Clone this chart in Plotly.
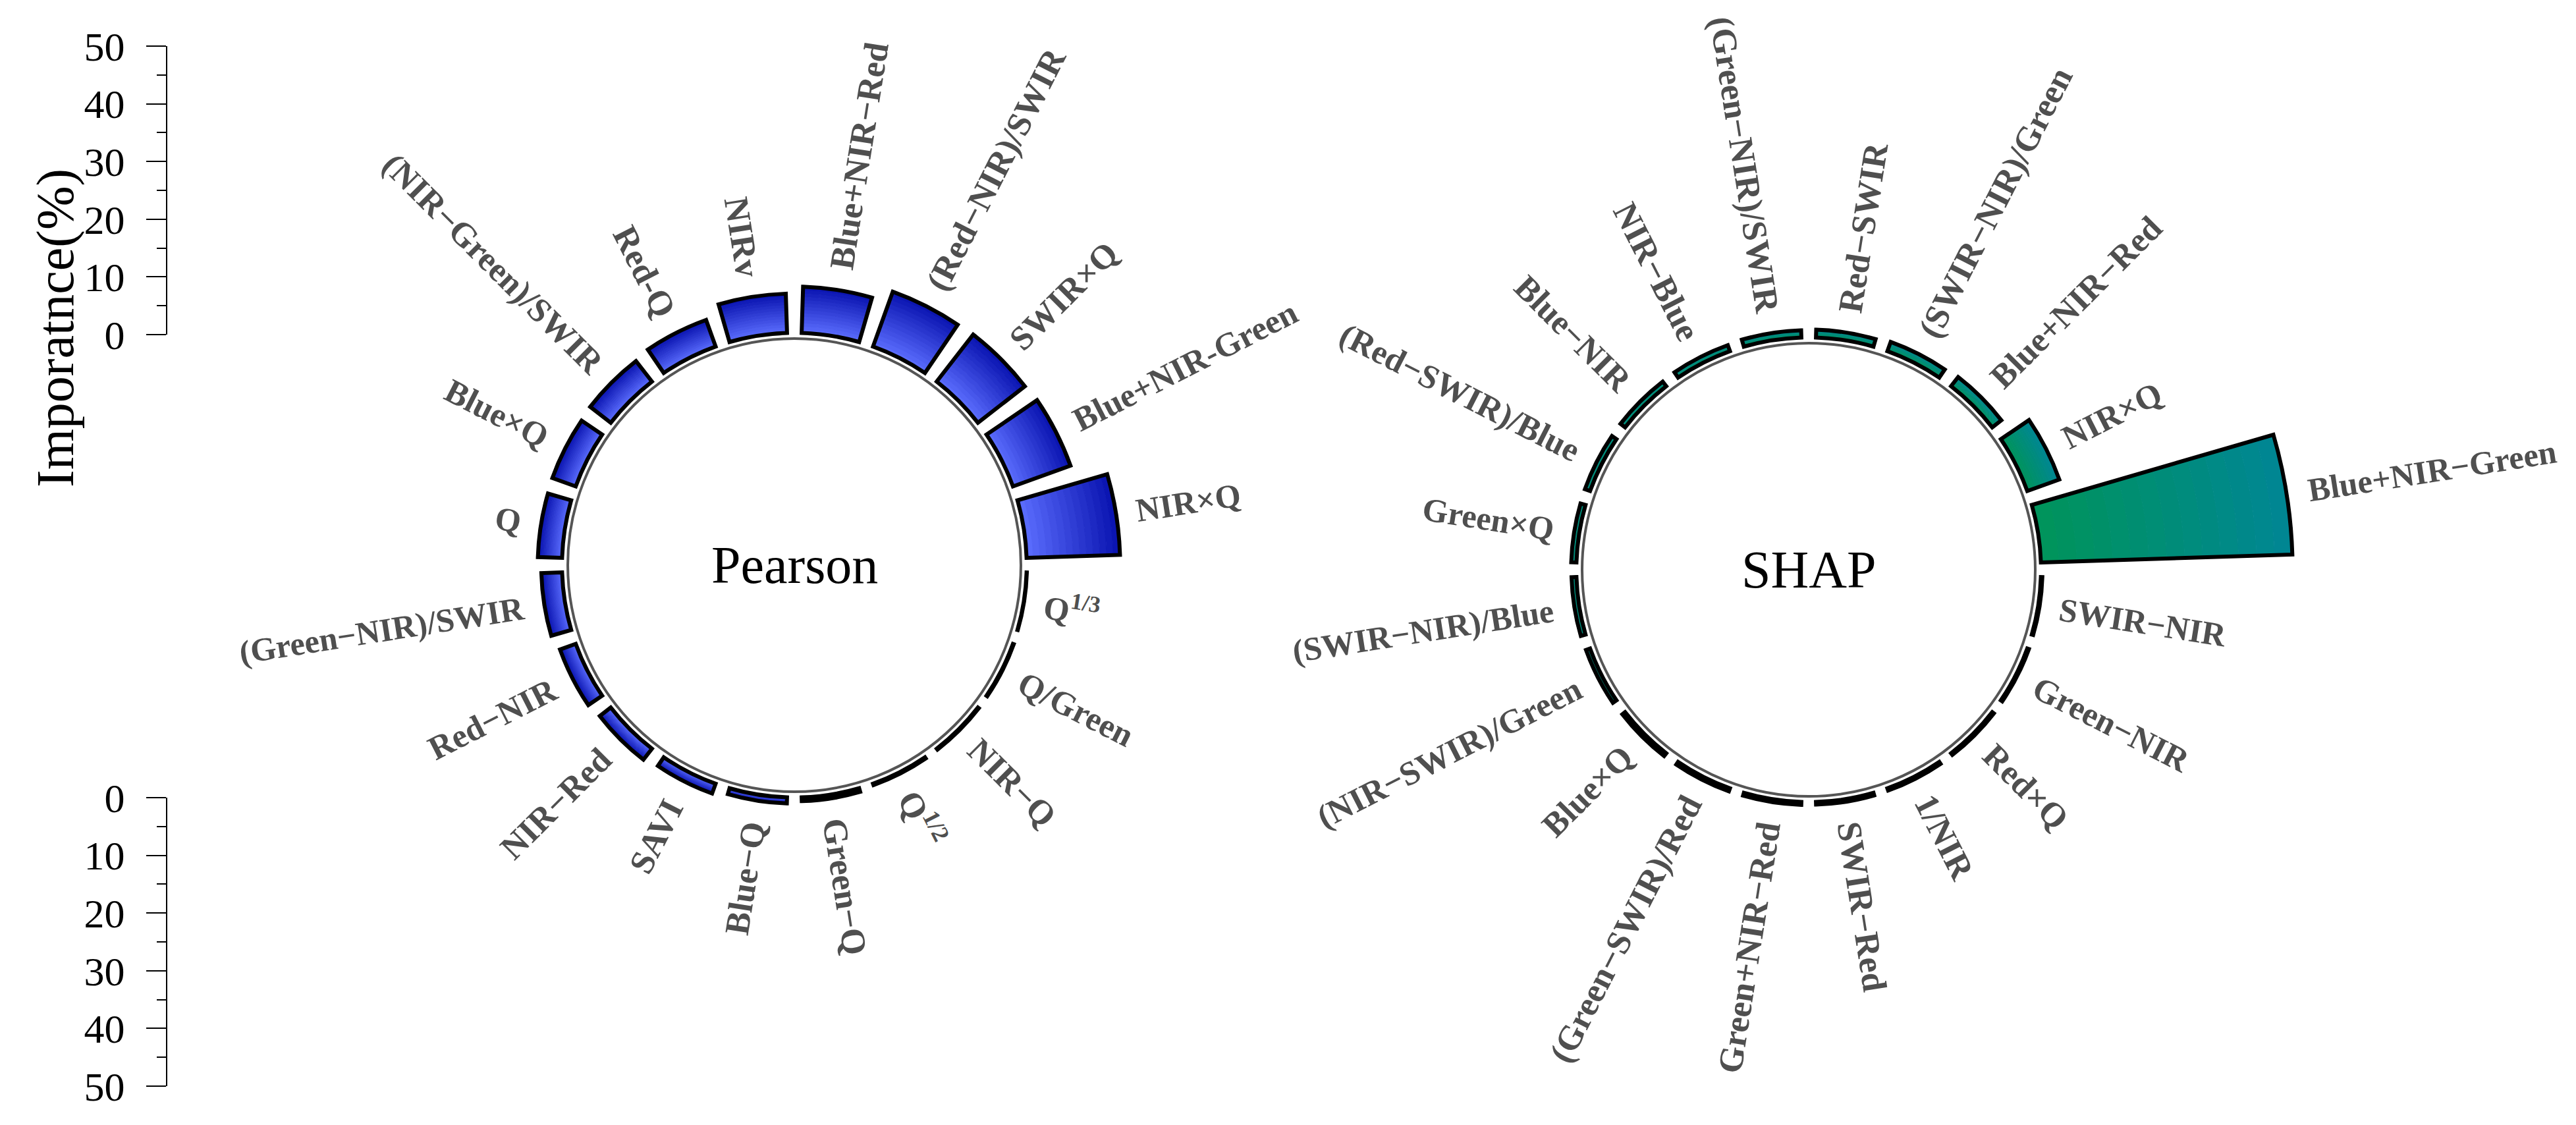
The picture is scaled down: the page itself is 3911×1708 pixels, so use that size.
import math
import re

import plotly.graph_objects as go

# ── Data ───────────────────────────────────────────────────────
# categories listed counter-clockwise, starting just above 3 o'clock
pearson_labels = [
    "NIR×Q", "Blue+NIR-Green", "SWIR×Q", "(Red−NIR)/SWIR", "Blue+NIR−Red",
    "NIRv", "Red-Q", "(NIR−Green)/SWIR", "Blue×Q", "Q",
    "(Green−NIR)/SWIR", "Red−NIR", "NIR−Red", "SAVI", "Blue−Q",
    "Green−Q", "Q<sup>1/2</sup>", "NIR−Q", "Q/Green", "Q<sup>1/3</sup>",
]
pearson_values = [
    16.2, 10.6, 10.3, 10.1, 8.0,
    6.8, 4.9, 4.5, 4.3, 4.2,
    3.6, 2.9, 2.4, 1.8, 1.05,
    0.65, 0.25, 0.2, 0.15, 0.05,
]

shap_labels = [
    "Blue+NIR−Green", "NIR×Q", "Blue+NIR−Red", "(SWIR−NIR)/Green", "Red−SWIR",
    "(Green−NIR)/SWIR", "NIR−Blue", "Blue−NIR", "(Red−SWIR)/Blue", "Green×Q",
    "(SWIR−NIR)/Blue", "(NIR−SWIR)/Green", "Blue×Q", "(Green−SWIR)/Red", "Green+NIR−Red",
    "SWIR−Red", "1/NIR", "Red×Q", "Green−NIR", "SWIR−NIR",
]
shap_values = [
    43.6, 5.9, 2.0, 1.7, 1.35,
    1.25, 1.1, 1.0, 0.95, 0.9,
    0.85, 0.75, 0.6, 0.55, 0.5,
    0.45, 0.4, 0.35, 0.3, 0.25,
]

scale_ticks = [0, 10, 20, 30, 40, 50]

# ── Theme / geometry ──────────────────────────────────────────
W, H = 3911, 1708
SERIF = "Liberation Serif, Times New Roman, serif"
LABEL_GREY = "#4f4f4f"
LABEL_SIZE = 50

R_PX = 760            # polar outer radius in px
RING_PX = 344         # grey ring radius (r = 0)
PX_PER_UNIT = 8.76    # matches the 0-50 scale bars
R_MIN = -0.5
HOLE_PX = RING_PX + R_MIN * PX_PER_UNIT
R_MAX = R_MIN + (R_PX - HOLE_PX) / PX_PER_UNIT
BAR_BASE = 1.0
OUTLINE = 6
N_SLICES = 14
ROTATION = 9
LABEL_PAD = 28

PEARSON_C = (1198, 850)
SHAP_C = (2738, 857)

# Times-bold-ish advance widths (em) for label length estimate
_W = {
    **{c: 0.72 for c in "ABCDHKNRUVXY"}, "E": 0.667, "F": 0.611, "G": 0.778, "I": 0.389,
    "L": 0.667, "M": 0.944, "O": 0.778, "P": 0.611, "Q": 0.778, "S": 0.556, "T": 0.667,
    "W": 1.0, "a": 0.5, "b": 0.556, "c": 0.444, "d": 0.556, "e": 0.444, "f": 0.333,
    "g": 0.5, "h": 0.556, "i": 0.278, "l": 0.278, "m": 0.833, "n": 0.556, "o": 0.5,
    "p": 0.556, "r": 0.444, "s": 0.389, "t": 0.333, "u": 0.556, "v": 0.5, "x": 0.5,
    "(": 0.333, ")": 0.333, "/": 0.278, "+": 0.57, "−": 0.57, "-": 0.333, "×": 0.57,
}


def text_em(s):
    total = 0.0
    for p in re.split(r"(<sup>.*?</sup>)", s):
        if p.startswith("<sup>"):
            total += 0.7 * sum(_W.get(c, 0.5) for c in p[5:-6])
        else:
            total += sum(_W.get(c, 0.5) for c in p)
    return total


def mix(c0, c1, t):
    return "rgb({},{},{})".format(*[round(a + (b - a) * t) for a, b in zip(c0, c1)])


def polar_domain(c):
    cx, cy = c
    return dict(
        x=[(cx - R_PX) / W, (cx + R_PX) / W],
        y=[1 - (cy + R_PX) / H, 1 - (cy - R_PX) / H],
    )


def polar_layout(c):
    return dict(
        domain=polar_domain(c),
        hole=HOLE_PX / R_PX,
        bgcolor="rgba(0,0,0,0)",
        barmode="overlay",
        bargap=0.2,
        radialaxis=dict(
            range=[R_MIN, R_MAX], tickvals=[0], showticklabels=False, ticks="",
            showline=False, showgrid=True, gridcolor="#555555", gridwidth=4,
        ),
        angularaxis=dict(
            type="category", rotation=ROTATION, direction="counterclockwise",
            showline=False, showgrid=False, showticklabels=False, ticks="",
        ),
    )


def add_bars(fig, subplot, labels, values, c_in, c_out):
    # gradient fill: each bar cut into thin slices, light at base -> dark at tip
    for j in range(N_SLICES):
        col = mix(c_in, c_out, (j + 0.5) / N_SLICES)
        fig.add_trace(go.Barpolar(
            theta=labels,
            r=[v / N_SLICES for v in values],
            base=[BAR_BASE + v * j / N_SLICES for v in values],
            marker=dict(color=col, line=dict(color=col, width=1)),
            subplot=subplot, hoverinfo="skip", showlegend=False,
        ))
    # outline on top
    fig.add_trace(go.Barpolar(
        theta=labels, r=values, base=[BAR_BASE] * len(values),
        marker=dict(color="rgba(0,0,0,0)", line=dict(color="black", width=OUTLINE)),
        subplot=subplot, hovertemplate="%{theta}: %{r:.2f}%<extra></extra>",
        showlegend=False,
    ))


def label_annotations(labels, values, c):
    cx, cy = c
    n = len(labels)
    anns = []
    for i, (lab, v) in enumerate(zip(labels, values)):
        ang = ROTATION + 360 * i / n
        rad = math.radians(ang)
        # the source art is slightly taller than wide: vertical labels run longer
        size = LABEL_SIZE * (1 + 0.05 * abs(math.sin(rad)))
        r_out = HOLE_PX + (BAR_BASE + v - R_MIN) * PX_PER_UNIT + OUTLINE / 2
        rc = r_out + LABEL_PAD + text_em(lab) * size / 2
        x = cx + rc * math.cos(rad)
        y = cy - rc * math.sin(rad)
        ta = -ang if math.cos(rad) >= 0 else 180 - ang
        ta = (ta + 180) % 360 - 180
        anns.append(dict(
            x=x / W, y=1 - y / H, xref="paper", yref="paper",
            text=f"<b>{lab}</b>", textangle=ta, showarrow=False,
            xanchor="center", yanchor="middle",
            font=dict(family=SERIF, size=size, color=LABEL_GREY),
        ))
    return anns


fig = go.Figure()
add_bars(fig, "polar", pearson_labels, pearson_values, (92, 110, 255), (8, 18, 175))
add_bars(fig, "polar2", shap_labels, shap_values, (0, 148, 90), (0, 134, 148))

# empty traces so the two scale-bar subplots get drawn
for xa, ya in (("x", "y"), ("x2", "y2")):
    fig.add_trace(go.Scatter(x=[], y=[], xaxis=xa, yaxis=ya, mode="lines",
                             hoverinfo="skip", showlegend=False))

scale_axis = dict(
    showline=True, linecolor="black", linewidth=2,
    ticks="outside", ticklen=30, tickwidth=2, tickcolor="black",
    tickmode="linear", tick0=0, dtick=10, ticklabelstandoff=20,
    tickfont=dict(family=SERIF, size=62, color="black"),
    minor=dict(ticks="outside", ticklen=14, tickwidth=2, tickcolor="black",
               tickmode="linear", dtick=5, tick0=0, showgrid=False),
    showgrid=False, zeroline=False, fixedrange=True, automargin=False,
)
hidden_x = dict(visible=False, domain=[246 / W, 300 / W], range=[0, 1],
                fixedrange=True, automargin=False)

annotations = []
annotations += label_annotations(pearson_labels, pearson_values, PEARSON_C)
annotations += label_annotations(shap_labels, shap_values, SHAP_C)
for name, c in (("Pearson", PEARSON_C), ("SHAP", SHAP_C)):
    annotations.append(dict(
        x=c[0] / W, y=1 - c[1] / H, xref="paper", yref="paper", text=name,
        showarrow=False, xanchor="center", yanchor="middle",
        font=dict(family=SERIF, size=80, color="black"),
    ))
annotations.append(dict(
    x=76 / W, y=1 - 490 / H, xref="paper", yref="paper", text="Imporatnce(%)",
    textangle=-90, showarrow=False, xanchor="center", yanchor="middle",
    font=dict(family=SERIF, size=80, color="black"),
))

fig.update_layout(
    width=W, height=H,
    margin=dict(l=0, r=0, t=0, b=0, autoexpand=False),
    paper_bgcolor="white", plot_bgcolor="white",
    showlegend=False,
    polar=polar_layout(PEARSON_C),
    polar2=polar_layout(SHAP_C),
    xaxis=dict(hidden_x, anchor="y"),
    yaxis=dict(scale_axis, anchor="x", range=[0, 50], domain=[1 - 500 / H, 1 - 62 / H]),
    xaxis2=dict(hidden_x, anchor="y2"),
    yaxis2=dict(scale_axis, anchor="x2", range=[50, 0], domain=[1 - 1641 / H, 1 - 1203 / H]),
    annotations=annotations,
)

fig.write_html("out.html")
